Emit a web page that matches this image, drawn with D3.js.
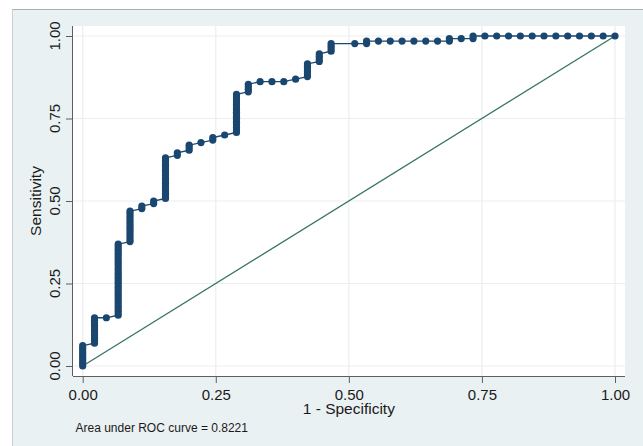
<!DOCTYPE html>
<html>
<head>
<meta charset="utf-8">
<script src="https://cdn.jsdelivr.net/npm/d3@7"></script>
<style>
  html, body { margin: 0; padding: 0; background: #ffffff; }
  svg { display: block; font-family: "Liberation Sans", Arial, sans-serif; }
</style>
</head>
<body>
<svg id="chart" width="643" height="446"></svg>
<script>
// ROC curve: 45 negative and 130 positive cases.
const nNegatives = 45;
const nPositives = 130;

// False-positive count of each column of operating points
const falsePosColumns = [0, 1, 2, 3, 4, 5, 6, 7, 8, 9, 10, 11, 12, 13, 14, 15, 16, 17, 18,
  19, 20, 21, 23, 24, 25, 26, 27, 28, 29, 30, 31, 32, 33, 34, 35, 36, 37, 38, 39, 40, 41,
  42, 43, 44, 45];

// True-positive counts of the operating points in each column
const truePosByColumn = [
  [0, 1, 2, 3, 4, 5, 6, 7, 8],
  [9, 10, 11, 12, 13, 14, 15, 16, 17, 18, 19],
  [19],
  [20, 21, 22, 23, 24, 25, 26, 27, 28, 29, 30, 31, 32, 33, 34, 35, 36, 37, 38, 39, 40, 41,
   42, 43, 44, 45, 46, 47, 48],
  [49, 50, 51, 52, 53, 54, 55, 56, 57, 58, 59, 60, 61],
  [62, 63],
  [64, 65],
  [66, 67, 68, 69, 70, 71, 72, 73, 74, 75, 76, 77, 78, 79, 80, 81, 82],
  [83, 84],
  [85, 86, 87],
  [88],
  [89, 90],
  [91],
  [92, 93, 94, 95, 96, 97, 98, 99, 100, 101, 102, 103, 104, 105, 106, 107],
  [108, 109, 110, 111],
  [112],
  [112],
  [112],
  [113],
  [114, 115, 116, 117, 118, 119],
  [120, 121, 122, 123],
  [124, 125, 126, 127],
  [127],
  [127, 128],
  [128],
  [128],
  [128],
  [128],
  [128],
  [128],
  [128, 129],
  [129],
  [129, 130],
  [130], [130], [130], [130], [130], [130], [130], [130], [130], [130], [130], [130]
];

const xTicks = [0, 0.25, 0.5, 0.75, 1];
const yTicks = [0, 0.25, 0.5, 0.75, 1];
const xTitle = "1 - Specificity";
const yTitle = "Sensitivity";
const aucNote = "Area under ROC curve = 0.8221";

// Operating points as (1 - specificity, sensitivity)
const points = [];
falsePosColumns.forEach((fp, i) => {
  truePosByColumn[i].forEach(tp => {
    points.push({ fpr: fp / nNegatives, tpr: tp / nPositives });
  });
});

const svg = d3.select("#chart");
const W = 643, H = 446;

// Outer graph region
const panel = { x: 12, y: 9 };
svg.append("rect").attr("x", panel.x).attr("y", panel.y)
  .attr("width", W - panel.x).attr("height", H - panel.y)
  .attr("fill", "#eaf1f3");
svg.append("line").attr("x1", panel.x).attr("x2", W).attr("y1", panel.y + 0.5).attr("y2", panel.y + 0.5)
  .attr("stroke", "#a9adaf").attr("stroke-width", 1);
svg.append("line").attr("x1", panel.x + 0.5).attr("x2", panel.x + 0.5).attr("y1", panel.y).attr("y2", H)
  .attr("stroke", "#c9d0d3").attr("stroke-width", 1);

// Plot region
const plot = { left: 73, right: 625, top: 26, bottom: 376 };
svg.append("rect").attr("x", plot.left).attr("y", plot.top)
  .attr("width", plot.right - plot.left).attr("height", plot.bottom - plot.top)
  .attr("fill", "#ffffff");

const x = d3.scaleLinear().domain([0, 1]).range([82.7, 615]);
const y = d3.scaleLinear().domain([0, 1]).range([366, 36]);

// Grid lines
const grid = svg.append("g").attr("stroke", "#e9eef0").attr("stroke-width", 1.2);
grid.selectAll("line.gx").data(xTicks).join("line")
  .attr("x1", d => x(d)).attr("x2", d => x(d))
  .attr("y1", plot.top).attr("y2", plot.bottom);
grid.selectAll("line.gy").data(yTicks).join("line")
  .attr("x1", plot.left).attr("x2", plot.right)
  .attr("y1", d => y(d)).attr("y2", d => y(d));

// Axes
const axisColor = "#5c5f61";
const xAxis = svg.append("g").attr("transform", `translate(0,${plot.bottom})`)
  .call(d3.axisBottom(x).tickValues(xTicks).tickFormat(d3.format(".2f"))
    .tickSize(7).tickPadding(6));
xAxis.select(".domain").remove();
xAxis.selectAll(".tick line").attr("stroke", axisColor);
xAxis.selectAll(".tick text").attr("font-size", 15).attr("fill", "#1a1a1a")
  .attr("font-family", "Liberation Sans, Arial, sans-serif");

const yAxis = svg.append("g").attr("transform", `translate(${plot.left},0)`)
  .call(d3.axisLeft(y).tickValues(yTicks).tickFormat("").tickSize(7));
yAxis.select(".domain").remove();
yAxis.selectAll(".tick line").attr("stroke", axisColor);

svg.append("g").selectAll("text").data(yTicks).join("text")
  .attr("x", 60).attr("y", d => y(d))
  .attr("transform", d => `rotate(-90,60,${y(d)})`)
  .attr("text-anchor", "middle")
  .attr("font-size", 15).attr("fill", "#1a1a1a")
  .text(d3.format(".2f"));

svg.append("line").attr("x1", plot.left).attr("x2", plot.right)
  .attr("y1", plot.bottom + 0.5).attr("y2", plot.bottom + 0.5)
  .attr("stroke", axisColor).attr("stroke-width", 1);
svg.append("line").attr("x1", plot.left - 0.5).attr("x2", plot.left - 0.5)
  .attr("y1", plot.top).attr("y2", plot.bottom)
  .attr("stroke", axisColor).attr("stroke-width", 1);

// Axis titles
svg.append("text").attr("x", x(0.5)).attr("y", 414)
  .attr("text-anchor", "middle").attr("font-size", 15.5).attr("fill", "#1a1a1a")
  .text(xTitle);
svg.append("text").attr("x", 41).attr("y", y(0.5))
  .attr("transform", `rotate(-90,41,${y(0.5)})`)
  .attr("text-anchor", "middle").attr("font-size", 15.5).attr("fill", "#1a1a1a")
  .text(yTitle);

// Chance diagonal
svg.append("line")
  .attr("x1", x(0)).attr("y1", y(0)).attr("x2", x(1)).attr("y2", y(1))
  .attr("stroke", "#357463").attr("stroke-width", 1.3);

// ROC curve
const navy = "#1a476f";
svg.append("path").datum(points)
  .attr("d", d3.line().x(d => x(d.fpr)).y(d => y(d.tpr)))
  .attr("fill", "none").attr("stroke", navy).attr("stroke-width", 1.3);
svg.append("g").selectAll("circle").data(points).join("circle")
  .attr("cx", d => x(d.fpr)).attr("cy", d => y(d.tpr)).attr("r", 3.6)
  .attr("fill", navy);

// Note
svg.append("text").attr("x", 75.5).attr("y", 432)
  .attr("font-size", 12).attr("fill", "#1a1a1a")
  .text(aucNote);
</script>
</body>
</html>
